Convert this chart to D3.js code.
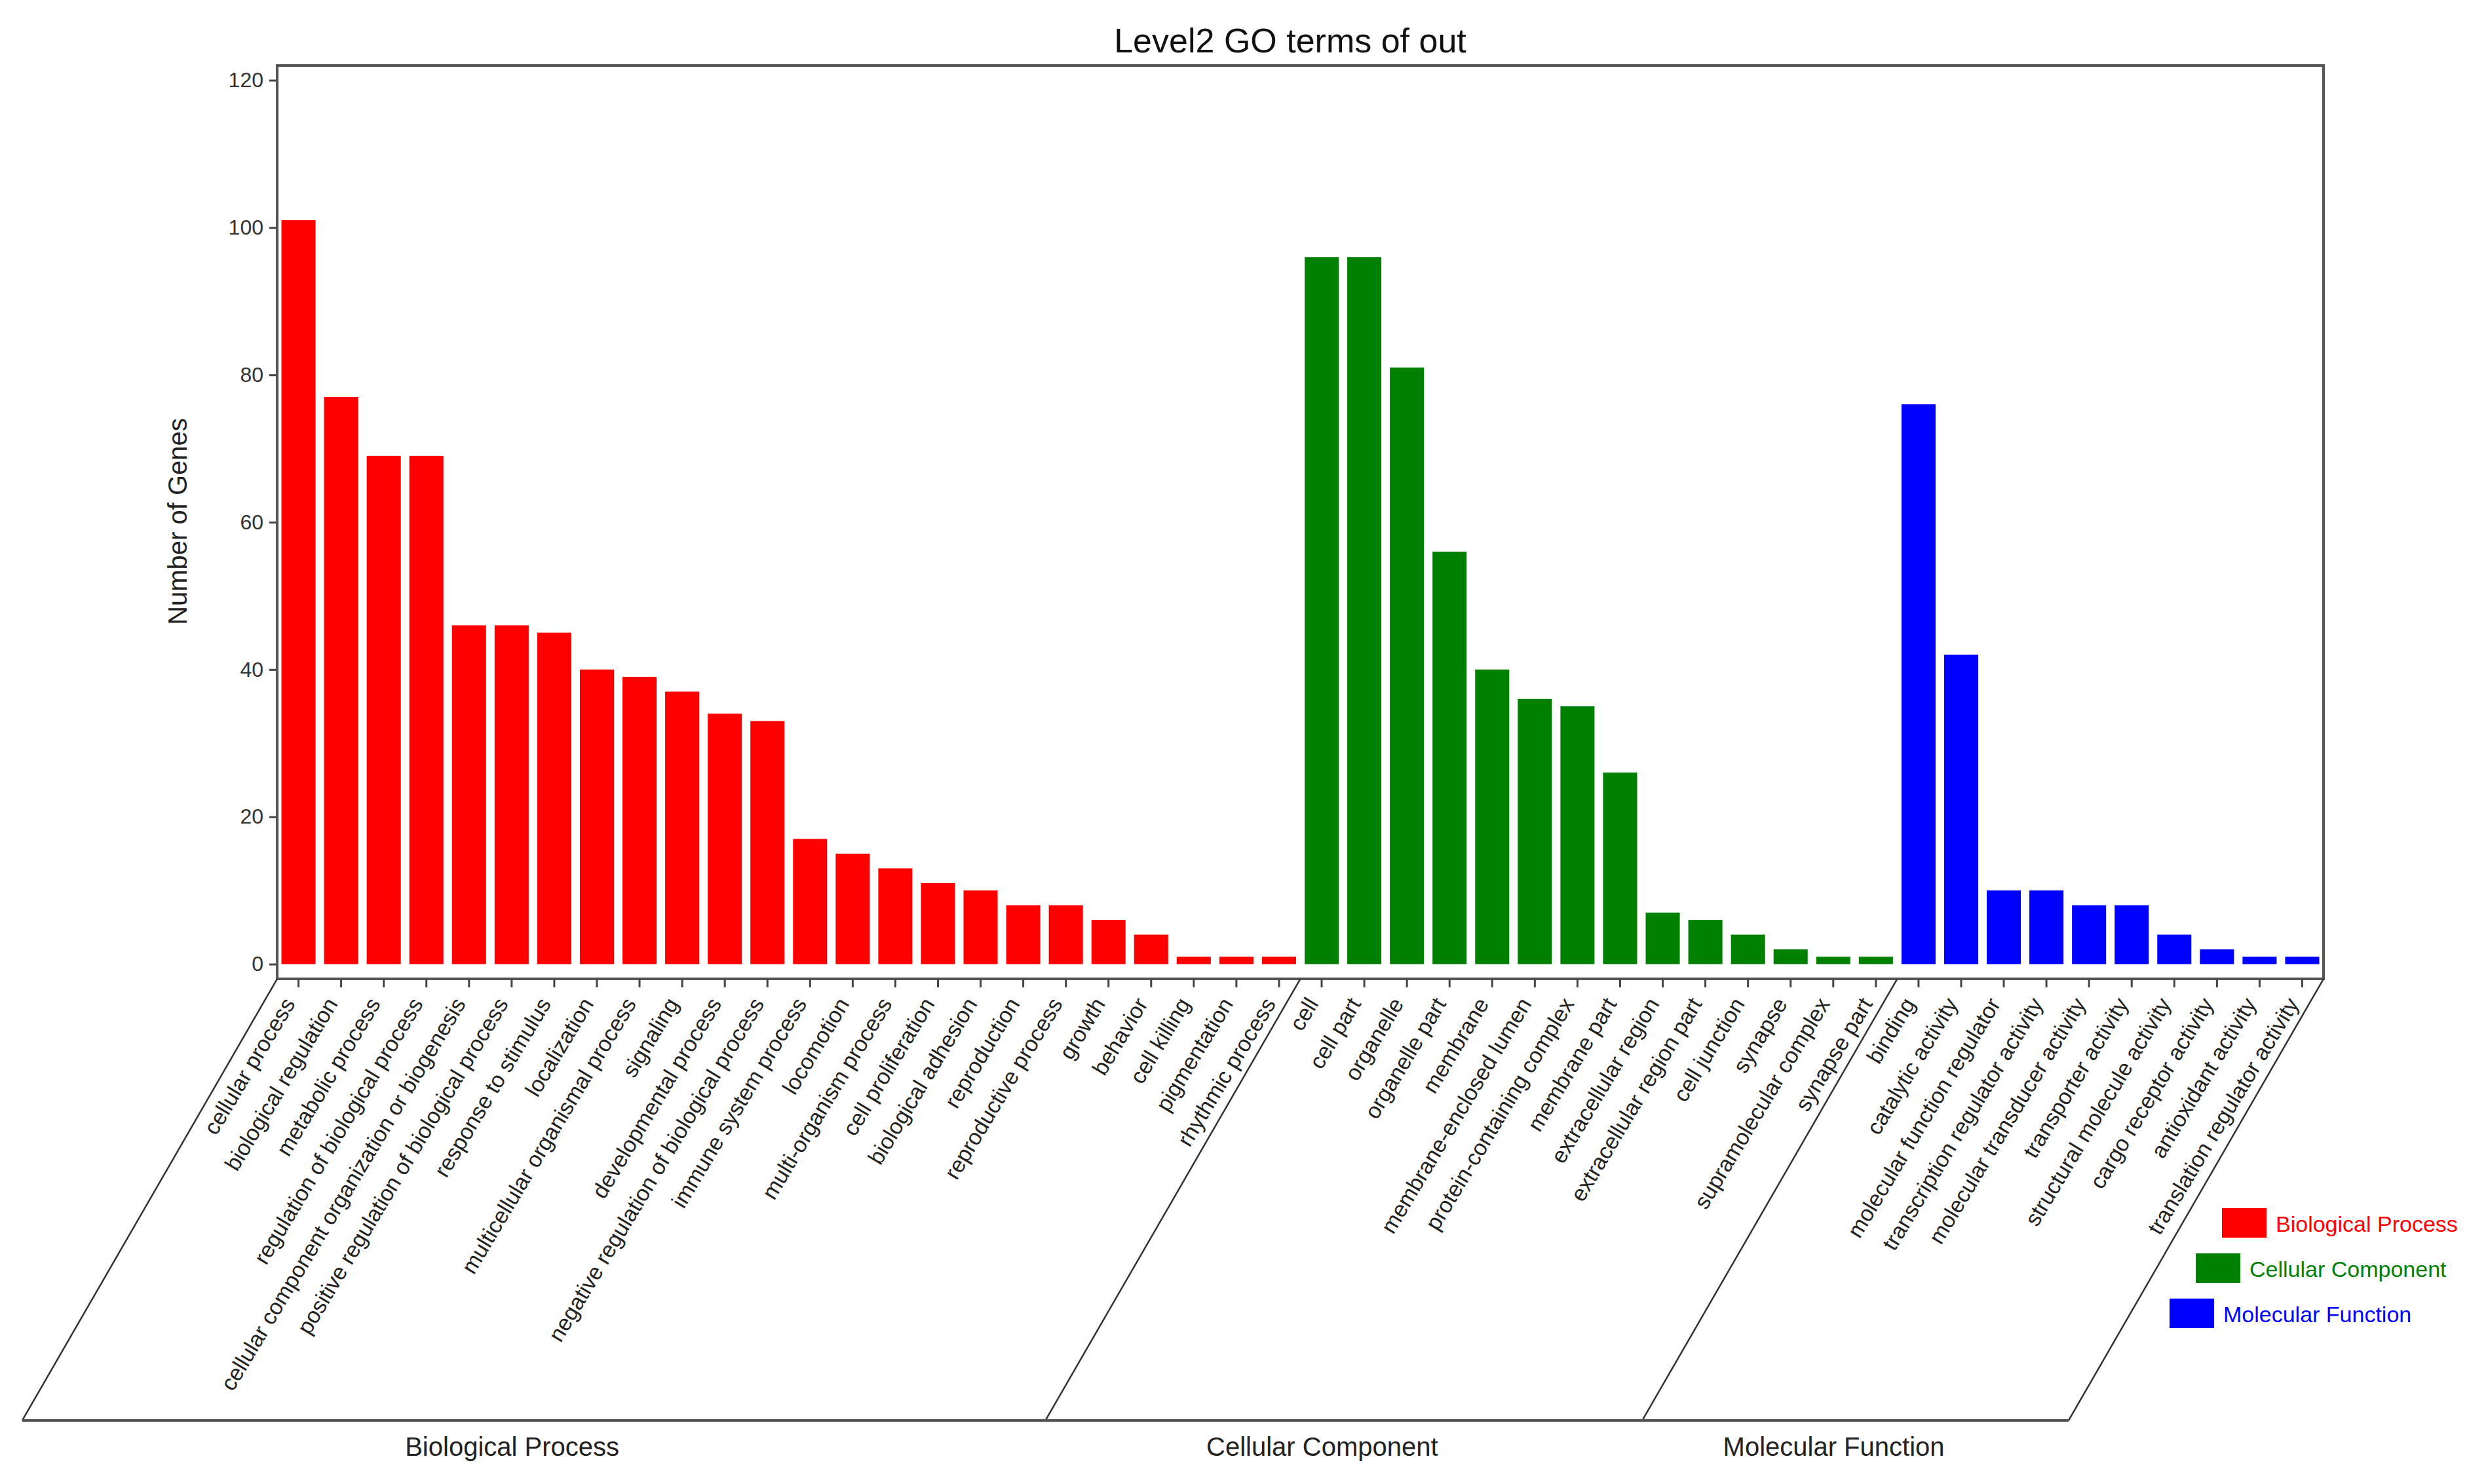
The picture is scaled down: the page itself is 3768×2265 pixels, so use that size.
<!DOCTYPE html>
<html>
<head>
<meta charset="utf-8">
<script src="https://cdn.jsdelivr.net/npm/d3@7"></script>
<style>
body { margin: 0; background: #fff; }
svg { display: block; font-family: "Liberation Sans", Arial, sans-serif; }
</style>
</head>
<body>
<svg id="chart" width="3768" height="2265"></svg>
<script>
var bpTerms = ['cellular process', 'biological regulation', 'metabolic process', 'regulation of biological process',
	'cellular component organization or biogenesis', 'positive regulation of biological process', 'response to stimulus',
	'localization', 'multicellular organismal process', 'signaling', 'developmental process',
	'negative regulation of biological process', 'immune system process', 'locomotion', 'multi-organism process',
	'cell proliferation', 'biological adhesion', 'reproduction', 'reproductive process', 'growth', 'behavior',
	'cell killing', 'pigmentation', 'rhythmic process'];
var bpCounts = [101, 77, 69, 69, 46, 46, 45, 40, 39, 37, 34, 33, 17, 15, 13, 11, 10, 8, 8, 6, 4, 1, 1, 1];

var ccTerms = ['cell', 'cell part', 'organelle', 'organelle part', 'membrane', 'membrane-enclosed lumen',
	'protein-containing complex', 'membrane part', 'extracellular region', 'extracellular region part',
	'cell junction', 'synapse', 'supramolecular complex', 'synapse part'];
var ccCounts = [96, 96, 81, 56, 40, 36, 35, 26, 7, 6, 4, 2, 1, 1];

var mfTerms = ['binding', 'catalytic activity', 'molecular function regulator', 'transcription regulator activity',
	'molecular transducer activity', 'transporter activity', 'structural molecule activity',
	'cargo receptor activity', 'antioxidant activity', 'translation regulator activity'];
var mfCounts = [76, 42, 10, 10, 8, 8, 4, 2, 1, 1];

var yTicks = [0, 20, 40, 60, 80, 100, 120];
var groupNames = ['Biological Process', 'Cellular Component', 'Molecular Function'];
var groupColors = ['#ff0000', '#008000', '#0000ff'];
var chartTitle = 'Level2 GO terms of out';
var yTitle = 'Number of Genes';

(function() {
	var svg = d3.select('#chart');
	var plotLeft = 423, plotRight = 3546, plotTop = 100, plotBottom = 1494, floorY = 2168;
	var slant = (floorY - plotBottom) / Math.tan(60 * Math.PI / 180);
	var frameColor = '#555';

	var rows = [];
	[[bpTerms, bpCounts], [ccTerms, ccCounts], [mfTerms, mfCounts]].forEach(function(g, gi) {
		g[0].forEach(function(term, i) {
			rows.push({ term: term, count: g[1][i], group: gi });
		});
	});

	var x = d3.scaleBand()
		.domain(rows.map(function(d) { return d.term; }))
		.range([plotLeft, plotRight])
		.paddingInner(0.2)
		.paddingOuter(0.1);
	var y = d3.scaleLinear().domain([-2, 122]).range([plotBottom, plotTop]);
	var bw = x.bandwidth();

	// group boundaries along the x axis
	var bounds = [plotLeft];
	[bpTerms, ccTerms].forEach(function(terms, gi) {
		var next = gi == 0 ? ccTerms[0] : mfTerms[0];
		bounds.push((x(terms[terms.length - 1]) + bw + x(next)) / 2);
	});
	bounds.push(plotRight);

	// bars
	svg.append('g').selectAll('rect')
		.data(rows)
		.enter().append('rect')
		.attr('x', function(d) { return x(d.term); })
		.attr('y', function(d) { return y(d.count); })
		.attr('width', bw)
		.attr('height', function(d) { return y(0) - y(d.count); })
		.attr('fill', function(d) { return groupColors[d.group]; });

	// y axis
	var yAxis = svg.append('g')
		.attr('transform', 'translate(' + plotLeft + ',0)')
		.call(d3.axisLeft(y).tickValues(yTicks).tickSize(12).tickPadding(9));
	yAxis.select('.domain').remove();
	yAxis.selectAll('.tick line').attr('stroke', '#444').attr('stroke-width', 3);
	yAxis.selectAll('.tick text')
		.attr('font-size', 32)
		.attr('fill', '#333')
		.attr('font-family', '"Liberation Sans", Arial, sans-serif');

	// frame
	var frame = svg.append('g').attr('stroke', frameColor).attr('stroke-width', 4).attr('fill', 'none');
	frame.append('rect')
		.attr('x', plotLeft).attr('y', plotTop)
		.attr('width', plotRight - plotLeft).attr('height', plotBottom - plotTop);

	// bottom ticks
	svg.append('g').selectAll('line')
		.data(rows)
		.enter().append('line')
		.attr('x1', function(d) { return x(d.term) + bw / 2; })
		.attr('x2', function(d) { return x(d.term) + bw / 2; })
		.attr('y1', plotBottom)
		.attr('y2', plotBottom + 13)
		.attr('stroke', '#444')
		.attr('stroke-width', 3);

	// slanted group dividers and floor
	svg.append('g').selectAll('line')
		.data(bounds)
		.enter().append('line')
		.attr('x1', function(d) { return d; })
		.attr('y1', plotBottom)
		.attr('x2', function(d) { return d - slant; })
		.attr('y2', floorY)
		.attr('stroke', '#333')
		.attr('stroke-width', 2.5);

	svg.append('line')
		.attr('x1', plotLeft - slant).attr('x2', plotRight - slant)
		.attr('y1', floorY).attr('y2', floorY)
		.attr('stroke', frameColor)
		.attr('stroke-width', 4);

	// category labels
	svg.append('g').selectAll('text')
		.data(rows)
		.enter().append('text')
		.attr('transform', function(d) {
			return 'translate(' + (x(d.term) + bw / 2 - 4) + ',' + (plotBottom + 38) + ') rotate(-59)';
		})
		.attr('text-anchor', 'end')
		.attr('font-size', 34)
		.attr('fill', '#222')
		.text(function(d) { return d.term; });

	// group names under the floor
	svg.append('g').selectAll('text')
		.data(groupNames)
		.enter().append('text')
		.attr('x', function(d, i) { return (bounds[i] + bounds[i + 1]) / 2 - slant - 33; })
		.attr('y', 2222)
		.attr('text-anchor', 'middle')
		.attr('font-size', 40)
		.attr('fill', '#222')
		.text(function(d) { return d; });

	// title and y label
	svg.append('text')
		.attr('x', 1969).attr('y', 80)
		.attr('text-anchor', 'middle')
		.attr('font-size', 52)
		.attr('fill', '#111')
		.text(chartTitle);

	svg.append('text')
		.attr('transform', 'translate(285,796) rotate(-90)')
		.attr('text-anchor', 'middle')
		.attr('font-size', 40)
		.attr('fill', '#222')
		.text(yTitle);

	// legend
	var legend = svg.append('g').selectAll('g')
		.data(groupNames)
		.enter().append('g')
		.attr('transform', function(d, i) { return 'translate(' + (3391 - 40 * i) + ',' + (1844 + 69 * i) + ')'; });
	legend.append('rect')
		.attr('width', 68).attr('height', 45)
		.attr('fill', function(d, i) { return groupColors[i]; });
	legend.append('text')
		.attr('x', 82).attr('y', 36)
		.attr('font-size', 34)
		.attr('fill', function(d, i) { return groupColors[i]; })
		.text(function(d) { return d; });
})();
</script>
</body>
</html>
